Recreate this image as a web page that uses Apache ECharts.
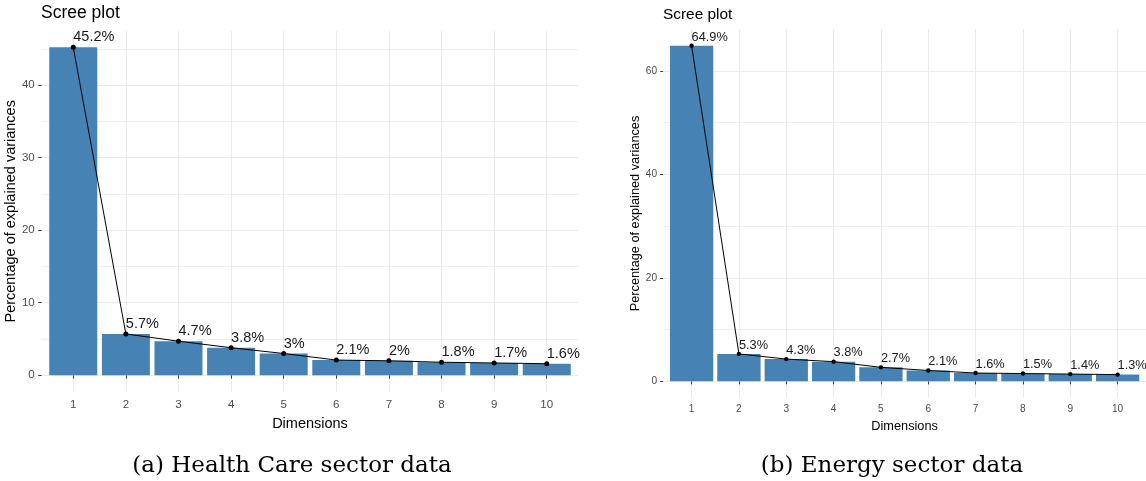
<!DOCTYPE html>
<html>
<head>
<meta charset="utf-8">
<script src="https://cdn.jsdelivr.net/npm/echarts@6/dist/echarts.min.js"></script>
<style>
html,body{margin:0;padding:0;background:#fff;}
#chart{width:1146px;height:481px;}
</style>
</head>
<body>
<div id="chart"></div>
<script>
// ---- data ----
const dimensions = [1, 2, 3, 4, 5, 6, 7, 8, 9, 10];
const healthValues = [45.2, 5.7, 4.7, 3.8, 3.0, 2.1, 2.0, 1.8, 1.7, 1.6];
const energyValues = [64.9, 5.3, 4.3, 3.8, 2.7, 2.1, 1.6, 1.5, 1.4, 1.3];
const healthYTicks = [0, 10, 20, 30, 40];
const healthYMinor = [5, 15, 25, 35, 45];
const energyYTicks = [0, 20, 40, 60];
const energyYMinor = [10, 30, 50];
const titleText = 'Scree plot';
const xTitle = 'Dimensions';
const yTitle = 'Percentage of explained variances';
const captionA = '(a) Health Care sector data';
const captionB = '(b) Energy sector data';

const FONT = 'Liberation Sans, Arial, sans-serif';
const BAR = '#4682B4';
const GRID = '#EBEBEB';

const chart = echarts.init(document.getElementById('chart'));

function pairs(vals) { return dimensions.map((d, i) => [d, vals[i]]); }

function panel(idx, vals, yTicks, yMinor, s) {
  const maxV = Math.max(...vals);
  const ymin = -0.05 * maxV, ymax = 1.05 * maxV;
  const xAxes = [{
    gridIndex: idx, type: 'value', min: 0.4, max: 10.6,
    axisLine: {show: false},
    axisTick: {show: true, customValues: dimensions, length: 3.5 * s, lineStyle: {color: '#444', width: 1}},
    axisLabel: {customValues: dimensions, color: '#4D4D4D', fontSize: 11.5 * s, fontFamily: FONT, margin: 7.5 * s},
    splitLine: {show: true, lineStyle: {color: GRID, width: 1}},
    name: xTitle, nameLocation: 'middle', nameGap: 22 * s,
    nameTextStyle: {color: '#000', fontSize: 14.5 * s, fontFamily: FONT}
  }];
  const yAxes = [{
    gridIndex: idx, type: 'value', min: ymin, max: ymax,
    axisLine: {show: false},
    axisTick: {show: true, customValues: yTicks, length: 3.5 * s, lineStyle: {color: '#444', width: 1}},
    axisLabel: {customValues: yTicks, color: '#4D4D4D', fontSize: 11.5 * s, fontFamily: FONT, margin: 7 * s},
    splitLine: {show: true, lineStyle: {color: GRID, width: 1}},
    name: yTitle, nameLocation: 'middle', nameGap: 22.5 * s - (s < 1 ? 0.7 : 0),
    nameTextStyle: {color: '#000', fontSize: 14.5 * s, fontFamily: FONT}
  }, {
    gridIndex: idx, type: 'value', min: ymin, max: ymax,
    axisLine: {show: false},
    axisTick: {show: false, customValues: yMinor},
    axisLabel: {show: false, customValues: yMinor},
    splitLine: {show: true, lineStyle: {color: '#F0F0F0', width: 1}}
  }];
  return {xAxes, yAxes};
}

const pA = panel(0, healthValues, healthYTicks, healthYMinor, 1);
const pB = panel(1, energyValues, energyYTicks, energyYMinor, 0.88);

function series(xi, yi, vals, s, barW) {
  return [{
    type: 'bar', xAxisIndex: xi, yAxisIndex: yi, data: pairs(vals),
    barWidth: barW, itemStyle: {color: BAR}, z: 2, silent: true
  }, {
    type: 'line', xAxisIndex: xi, yAxisIndex: yi, data: pairs(vals),
    lineStyle: {color: '#000', width: 1}, itemStyle: {color: '#000'},
    symbol: 'circle', symbolSize: 5 * s, z: 3, silent: true,
    label: {
      show: true, position: 'top', align: 'left', distance: 0,
      color: '#1a1a1a', fontSize: 14.5 * s, fontFamily: FONT,
      formatter: p => p.value[1] + '%'
    }
  }];
}

const option = {
  animation: false,
  backgroundColor: '#fff',
  title: [
    {text: titleText, left: 41, top: 4.5, padding: 0, textStyle: {fontSize: 17.5, fontWeight: 'normal', color: '#000', fontFamily: FONT}},
    {text: titleText, left: 663, top: 7.3, padding: 0, textStyle: {fontSize: 15.4, fontWeight: 'normal', color: '#000', fontFamily: FONT}}
  ],
  grid: [
    {left: 41.7, top: 30.9, width: 536.6, height: 360.8},
    {left: 663.2, top: 28.9, width: 484, height: 369.2}
  ],
  xAxis: [...pA.xAxes, {...pB.xAxes[0], gridIndex: 1}],
  yAxis: [...pA.yAxes, ...pB.yAxes.map(a => ({...a, gridIndex: 1}))],
  series: [
    ...series(0, 0, healthValues, 1, 48),
    ...series(1, 2, energyValues, 0.88, 43.3)
  ],
  graphic: [
    {type: 'text', x: 292, y: 466, style: {text: captionA, font: '23px "DejaVu Serif"', fill: '#000', align: 'center', verticalAlign: 'middle'}},
    {type: 'text', x: 892, y: 466, style: {text: captionB, font: '23px "DejaVu Serif"', fill: '#000', align: 'center', verticalAlign: 'middle'}}
  ]
};
chart.setOption(option);
</script>
</body>
</html>
